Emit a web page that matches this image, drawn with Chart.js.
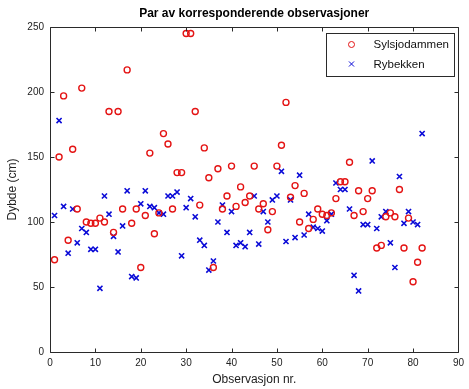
<!DOCTYPE html>
<html>
<head>
<meta charset="utf-8">
<title>Par av korresponderende observasjoner</title>
<script src="https://cdn.jsdelivr.net/npm/chart.js@4.4.0/dist/chart.umd.min.js"></script>
<style>
  html, body { margin: 0; padding: 0; background: #fff; }
  canvas { display: block; }
</style>
</head>
<body>
<canvas id="chart" width="469" height="389"></canvas>
<script>
// observation number 1..82
const obsNr = [];
for (let i = 1; i <= 82; i++) obsNr.push(i);

// depth (cm)
const sylsjodammen = [
  71, 150, 197, 86, 156, 110, 203, 100, 99, 99,
  103, 100, 185, 92, 185, 110, 217, 99, 110, 65,
  105, 153, 91, 107, 168, 160, 110, 138, 138, 245,
  245, 185, 113, 157, 134, 65, 141, 110, 120, 143,
  112, 127, 115, 120, 143, 110, 114, 94, 108, 143,
  159, 192, 119, 128, 100, 122, 95, 102, 110, 106,
  105, 107, 118, 131, 131, 146, 105, 124, 108, 118,
  124, 80, 82, 104, 107, 104, 125, 80, 103, 54,
  69, 80
];
const rybekken = [
  105, 178, 112, 76, 110, 84, 95, 92, 79, 79,
  49, 120, 106, 89, 77, 97, 124, 58, 57, 114,
  124, 112, 111, 107, 106, 120, 120, 123, 74, 111,
  118, 104, 86, 82, 63, 70, 100, 113, 92, 108,
  82, 84, 81, 92, 120, 83, 108, 100, 117, 120,
  139, 85, 117, 88, 136, 90, 106, 96, 95, 93,
  101, 106, 130, 125, 125, 110, 59, 47, 98, 98,
  147, 95, 104, 108, 84, 65, 135, 99, 108, 100,
  98, 168
];

const xTicks = [0, 10, 20, 30, 40, 50, 60, 70, 80, 90];
const yTicks = [0, 50, 100, 150, 200, 250];

const RED = 'rgb(228,20,20)';
const BLUE = 'rgb(10,10,215)';
const AXIS = '#2a2a2a';

Chart.defaults.font.family = "'Liberation Sans', Arial, sans-serif";
Chart.defaults.color = '#222';

// matlab style box with inward ticks on all four sides
const frameTicks = {
  id: 'frameTicks',
  afterDraw(chart) {
    const { ctx, chartArea: a, scales: { x, y } } = chart;
    const len = 4;
    ctx.save();
    ctx.strokeStyle = AXIS;
    ctx.lineWidth = 1;
    const L = Math.round(a.left) + 0.5, R = Math.round(a.right) + 0.5;
    const T = Math.round(a.top) + 0.5, B = Math.round(a.bottom) + 0.5;
    ctx.beginPath();
    ctx.rect(L, T, R - L, B - T);
    x.ticks.forEach(t => {
      const px = Math.round(x.getPixelForValue(t.value)) + 0.5;
      ctx.moveTo(px, B); ctx.lineTo(px, B - len);
      ctx.moveTo(px, T); ctx.lineTo(px, T + len);
    });
    y.ticks.forEach(t => {
      const py = Math.round(y.getPixelForValue(t.value)) + 0.5;
      ctx.moveTo(L, py); ctx.lineTo(L + len, py);
      ctx.moveTo(R, py); ctx.lineTo(R - len, py);
    });
    ctx.stroke();
    ctx.restore();
  }
};

// legend box in the upper right corner of the plot
const boxLegend = {
  id: 'boxLegend',
  afterDraw(chart) {
    const { ctx, chartArea: a } = chart;
    const w = 128, h = 43;
    const x0 = Math.round(a.right - 4 - w) + 0.5;
    const y0 = Math.round(a.top + 6) + 0.5;
    ctx.save();
    ctx.fillStyle = '#fff';
    ctx.strokeStyle = AXIS;
    ctx.lineWidth = 1;
    ctx.fillRect(x0, y0, w, h);
    ctx.strokeRect(x0, y0, w, h);
    ctx.font = "11.5px 'Liberation Sans', Arial, sans-serif";
    ctx.textBaseline = 'middle';
    chart.data.datasets.forEach((ds, i) => {
      const cy = y0 + 11 + i * 19.5;
      ctx.strokeStyle = ds.borderColor;
      ctx.fillStyle = 'rgba(0,0,0,0)';
      Chart.helpers.drawPoint(ctx, {
        pointStyle: ds.pointStyle,
        radius: ds.pointRadius,
        borderWidth: ds.borderWidth,
        rotation: 0
      }, x0 + 25, cy);
      ctx.fillStyle = '#111';
      ctx.fillText(ds.label, x0 + 47, cy + 0.5);
    });
    ctx.restore();
  }
};

const toPoints = vals => vals.map((v, i) => ({ x: obsNr[i], y: v }));

new Chart(document.getElementById('chart'), {
  type: 'scatter',
  data: {
    datasets: [
      {
        label: 'Sylsjodammen',
        data: toPoints(sylsjodammen),
        pointStyle: 'circle',
        pointRadius: 3,
        borderWidth: 1.4,
        borderColor: RED,
        backgroundColor: 'rgba(0,0,0,0)'
      },
      {
        label: 'Rybekken',
        data: toPoints(rybekken),
        pointStyle: 'crossRot',
        pointRadius: 3.6,
        borderWidth: 1.6,
        borderColor: BLUE,
        backgroundColor: BLUE
      }
    ]
  },
  options: {
    responsive: false,
    animation: false,
    layout: { padding: { left: 0, right: 8, top: 0, bottom: 0 } },
    plugins: {
      legend: { display: false },
      tooltip: { enabled: false },
      title: {
        display: true,
        fullSize: false,
        text: 'Par av korresponderende observasjoner',
        color: '#000',
        font: { size: 12, weight: 'bold' },
        padding: { top: 6, bottom: 6.6 }
      }
    },
    scales: {
      x: {
        type: 'linear',
        min: 0,
        max: 90,
        afterBuildTicks: s => { s.ticks = xTicks.map(v => ({ value: v })); },
        afterFit: s => { s.height = 37; },
        ticks: { font: { size: 10 }, padding: 5, maxRotation: 0 },
        grid: { display: false, drawTicks: false },
        border: { display: false },
        title: {
          display: true,
          text: 'Observasjon nr.',
          font: { size: 12 },
          padding: { top: 0, bottom: 2 }
        }
      },
      y: {
        type: 'linear',
        min: 0,
        max: 250,
        afterBuildTicks: s => { s.ticks = yTicks.map(v => ({ value: v })); },
        afterFit: s => { s.width = 50; },
        ticks: { font: { size: 10 }, padding: 6 },
        grid: { display: false, drawTicks: false },
        border: { display: false },
        title: {
          display: true,
          text: 'Dybde (cm)',
          font: { size: 12 },
          padding: { top: 5, bottom: 0 }
        }
      }
    }
  },
  plugins: [frameTicks, boxLegend]
});
</script>
</body>
</html>
